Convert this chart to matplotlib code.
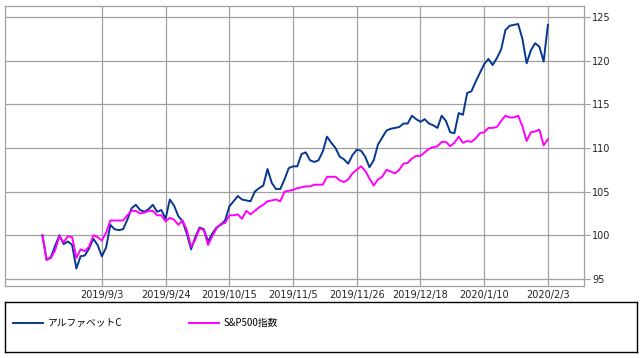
import matplotlib
matplotlib.use('Agg')
import matplotlib.pyplot as plt
import numpy as np

# index values (start = 100), one value per trading day
alphabet_c = [
    100.0, 97.2, 97.5, 98.8, 100.0, 99.0, 99.3, 98.9, 96.2, 97.6,
    97.7, 98.5, 99.6, 98.9, 97.6, 98.6, 101.2, 100.7, 100.6, 100.7,
    101.8, 103.1, 103.5, 102.9, 102.7, 103.0, 103.5, 102.7, 102.9, 101.9,
    104.1, 103.4, 102.2, 101.6, 100.2, 98.4, 99.8, 100.9, 100.7, 99.3,
    100.2, 100.9, 101.2, 101.7, 103.3, 103.9, 104.5, 104.1, 104.0, 103.9,
    105.0, 105.4, 105.7, 107.6, 106.0, 105.3, 105.3, 106.4, 107.7, 107.9,
    107.9, 109.3, 109.5, 108.6, 108.4, 108.6, 109.6, 111.3, 110.6, 110.0,
    109.0, 108.7, 108.2, 109.2, 109.8, 109.7, 109.0, 107.8, 108.6, 110.4,
    111.2, 112.0, 112.2, 112.3, 112.4, 112.8, 112.8, 113.7, 113.3, 113.0,
    113.3, 112.8, 112.6, 112.3, 113.7, 113.1, 111.8, 111.7, 114.0, 113.8,
    116.3, 116.5, 117.6, 118.6, 119.6, 120.2, 119.5, 120.3, 121.3, 123.5,
    124.0, 124.1, 124.2, 122.5, 119.7, 121.2, 122.0, 121.6, 119.9, 124.1,
]
sp500 = [
    100.0, 97.2, 97.4, 98.3, 99.9, 99.2, 99.9, 99.8, 97.4, 98.4,
    98.2, 98.7, 100.0, 99.8, 99.4, 100.3, 101.7, 101.7, 101.7, 101.7,
    102.3, 102.8, 102.8, 102.5, 102.6, 102.8, 102.8, 102.3, 102.3, 101.6,
    102.0, 101.8, 101.2, 101.7, 100.6, 98.7, 99.5, 100.8, 100.6, 98.9,
    99.9, 100.8, 101.3, 101.4, 102.3, 102.3, 102.4, 101.9, 102.8, 102.4,
    102.8, 103.2, 103.5, 103.9, 104.0, 104.1, 103.9, 105.0, 105.1, 105.2,
    105.4, 105.5, 105.6, 105.6, 105.8, 105.8, 105.8, 106.7, 106.7, 106.7,
    106.3, 106.1, 106.4, 107.1, 107.5, 107.9, 107.4, 106.5, 105.7, 106.4,
    106.7, 107.5, 107.3, 107.1, 107.5, 108.2, 108.3, 108.8, 109.1, 109.1,
    109.5, 109.9, 110.1, 110.2, 110.7, 110.7, 110.2, 110.6, 111.3, 110.6,
    110.8, 110.7, 111.1, 111.7, 111.8, 112.3, 112.3, 112.4, 113.1, 113.7,
    113.5, 113.5, 113.7, 112.5, 110.8, 111.8, 111.9, 112.1, 110.3, 111.0,
]
tick_labels = ['2019/9/3', '2019/9/24', '2019/10/15', '2019/11/5',
               '2019/11/26', '2019/12/18', '2020/1/10', '2020/2/3']
tick_pos = [14, 29, 44, 59, 74, 89, 104, 119]
names = ['アルファベットC', 'S&P500指数']

W, H = 643, 358
fig = plt.figure(figsize=(W / 100, H / 100), dpi=100)

ax = fig.add_axes([5 / W, 1 - 286 / H, 579 / W, 280 / H])
x = np.arange(len(alphabet_c))
l1, = ax.plot(x, alphabet_c, color='#063890', lw=1.4)
l2, = ax.plot(x, sp500, color='#ff00ff', lw=1.4)

ax.set_xlim(-8.8, 127.5)
ax.set_ylim(94.2, 126.26)
ax.set_xticks(tick_pos)
ax.set_xticklabels(tick_labels)
ax.set_yticks(np.arange(95, 126, 5))
ax.yaxis.tick_right()
ax.grid(True, color='#a0a0a0', lw=0.9)
ax.set_axisbelow(True)
ax.tick_params(axis='x', length=0, pad=3, labelsize=7, colors='#222222')
ax.tick_params(axis='y', length=4, pad=2, labelsize=7, color='#a0a0a0',
               labelcolor='#222222', width=0.8)
for s in ax.spines.values():
    s.set_color('#a0a0a0')
    s.set_linewidth(0.9)

# legend box below the chart
lax = fig.add_axes([5.3 / W, 1 - 351.7 / H, 631.7 / W, 50 / H])
lax.set_xticks([])
lax.set_yticks([])
for s in lax.spines.values():
    s.set_color('black')
    s.set_linewidth(1.0)
lax.legend([l1, l2], names, loc='center left', bbox_to_anchor=(0.0127, 0.57),
           ncol=2, frameon=False, borderpad=0, borderaxespad=0,
           handlelength=3.1, handletextpad=0.5, columnspacing=6.8,
           prop={'family': ['Noto Sans CJK JP', 'DejaVu Sans'], 'size': 7})

fig.savefig('out.png', dpi=100)
